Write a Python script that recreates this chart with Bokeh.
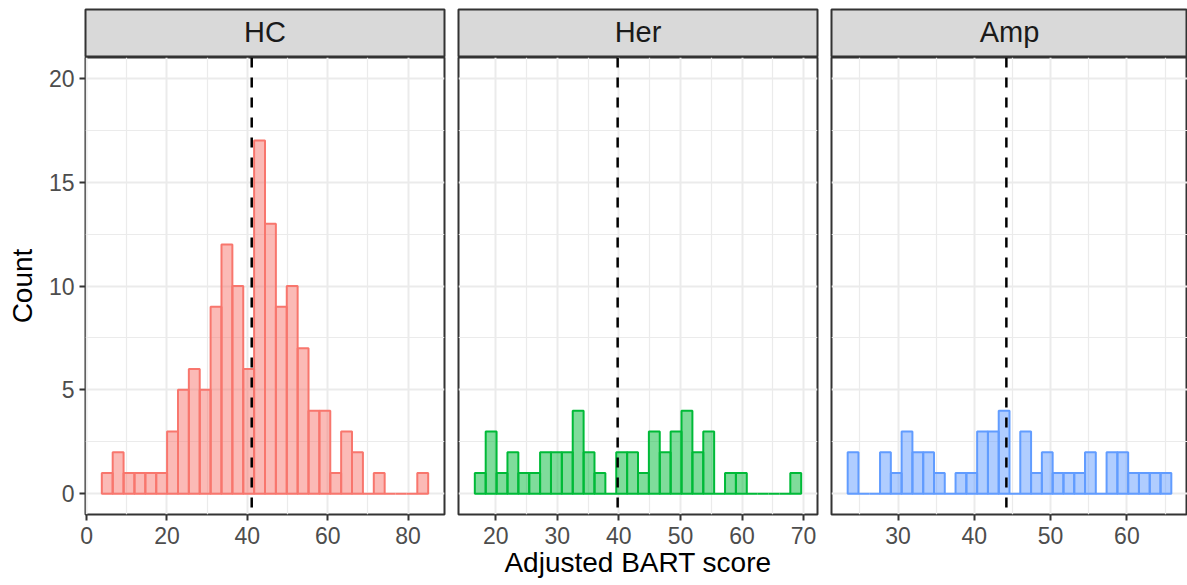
from bokeh.plotting import figure
from bokeh.layouts import row, column
from bokeh.models import Range1d, FixedTicker, Span, FactorRange, ColumnDataSource
from bokeh.embed import file_html
from bokeh.resources import INLINE
from bokeh.core.properties import value

# ---------------- data ----------------
groups = ["HC", "Her", "Amp"]
hc_counts = [1, 2, 1, 1, 1, 1, 3, 5, 6, 5, 9, 12, 10, 6, 17, 13, 9, 10, 7, 4, 4, 1, 3, 2, 0, 1, 0, 0, 0, 1]
her_counts = [1, 3, 1, 2, 1, 1, 2, 2, 2, 4, 2, 1, 0, 2, 2, 1, 3, 2, 3, 4, 2, 3, 0, 1, 1, 0, 0, 0, 0, 1]
amp_counts = [2, 0, 0, 2, 1, 3, 2, 2, 1, 0, 1, 1, 3, 3, 4, 0, 3, 1, 2, 1, 1, 1, 2, 0, 2, 2, 1, 1, 1, 1]
bin_starts = [3.8, 16.6, 23.4]
bin_widths = [2.707, 1.767, 1.414]
group_means = [41.1, 39.8, 44.2]
group_colors = ["#F8766D", "#00BA38", "#619CFF"]
x_major_ticks = [[0, 20, 40, 60, 80], [20, 30, 40, 50, 60, 70], [30, 40, 50, 60]]
x_minor_ticks = [[10, 30, 50, 70], [25, 35, 45, 55, 65], [25, 35, 45, 55, 65]]
y_major_ticks = [0, 5, 10, 15, 20]
y_minor_ticks = [2.5, 7.5, 12.5, 17.5]
y_limits = [0, 20]
x_title = "Adjusted BART score"
y_title = "Count"

all_counts = [hc_counts, her_counts, amp_counts]

# ---------------- style / layout ----------------
FONT = "Liberation Sans"
TOP_M = 8
STRIP_H = 49
FRAME_H = 457
BOTTOM_B = 71
FRAME_W = [359, 359, 356]
LEFT_B = [85, 7, 7]
RIGHT_B = [7, 7, 0]
BORDER = "#333333"
GRID = "#EBEBEB"

ypad = 0.05 * (y_limits[1] - y_limits[0])
y_range = Range1d(y_limits[0] - ypad, y_limits[1] + ypad)

cols = []
for i, g in enumerate(groups):
    counts = all_counts[i]
    n = len(counts)
    w = bin_widths[i]
    lefts = [bin_starts[i] + k * w for k in range(n)]
    rights = [l + w for l in lefts]
    span = n * w
    xr = Range1d(bin_starts[i] - 0.05 * span, bin_starts[i] + span + 0.05 * span)
    W = LEFT_B[i] + FRAME_W[i] + RIGHT_B[i]

    # strip
    s = figure(width=W, height=TOP_M + STRIP_H, x_range=FactorRange(factors=[g]),
               y_range=FactorRange(factors=[g]), output_backend="svg",
               toolbar_location=None, x_axis_location=None, y_axis_location=None,
               min_border=0)
    s.min_border_left = LEFT_B[i]
    s.min_border_right = RIGHT_B[i]
    s.min_border_top = TOP_M + 1
    s.min_border_bottom = 0
    s.grid.visible = False
    s.background_fill_color = "#D9D9D9"
    s.border_fill_color = "white"
    s.outline_line_color = BORDER
    s.outline_line_width = 2
    s.text(x=[g], y=[g], text=[g], text_align="center", text_baseline="middle",
           y_offset=-2,
           text_font=value(FONT), text_font_size="29px", text_color="#1A1A1A")

    # main panel
    p = figure(width=W, height=FRAME_H + BOTTOM_B, x_range=xr, y_range=y_range,
               output_backend="svg", toolbar_location=None,
               y_axis_location="left" if i == 0 else None, min_border=0)
    p.min_border_left = LEFT_B[i]
    p.min_border_right = RIGHT_B[i]
    p.min_border_top = 0
    p.min_border_bottom = BOTTOM_B
    p.background_fill_color = "white"
    p.border_fill_color = "white"
    p.outline_line_color = BORDER
    p.outline_line_width = 2

    p.xgrid.ticker = FixedTicker(ticks=x_major_ticks[i], minor_ticks=x_minor_ticks[i])
    p.ygrid.ticker = FixedTicker(ticks=y_major_ticks, minor_ticks=y_minor_ticks)
    for gr in (p.xgrid, p.ygrid):
        gr.grid_line_color = GRID
        gr.grid_line_width = 2
        gr.minor_grid_line_color = GRID
        gr.minor_grid_line_width = 1.2

    axes = [p.xaxis[0]] + ([p.yaxis[0]] if i == 0 else [])
    p.xaxis.ticker = FixedTicker(ticks=x_major_ticks[i], minor_ticks=x_minor_ticks[i])
    if i == 0:
        p.yaxis.ticker = FixedTicker(ticks=y_major_ticks, minor_ticks=y_minor_ticks)
    for ax in axes:
        ax.axis_line_color = None
        ax.major_tick_line_color = BORDER
        ax.major_tick_line_width = 2
        ax.major_tick_out = 6
        ax.major_tick_in = 0
        ax.minor_tick_out = 0
        ax.minor_tick_in = 0
        ax.major_label_text_font = FONT
        ax.major_label_text_font_size = "23px"
        ax.major_label_text_color = "#4D4D4D"
        ax.axis_label_text_font = FONT
        ax.axis_label_text_font_style = "normal"
        ax.axis_label_text_color = "black"
        ax.axis_label_text_font_size = "28px"
    p.xaxis.major_label_standoff = 6
    if i == 0:
        p.yaxis.major_label_standoff = 5
        p.yaxis.axis_label = y_title
        p.yaxis.axis_label_standoff = 8
    if i == 1:
        p.xaxis.axis_label = x_title
        p.xaxis.axis_label_standoff = 0

    src = ColumnDataSource(dict(left=lefts, right=rights, top=counts, bottom=[0] * n))
    p.quad(left="left", right="right", top="top", bottom="bottom", source=src,
           fill_color=group_colors[i], fill_alpha=0.5,
           line_color=group_colors[i], line_width=2)
    p.add_layout(Span(location=group_means[i], dimension="height", line_color="black",
                      line_width=2.5, line_dash="10 10"))

    cols.append(column(s, p, spacing=0))

layout = row(*cols, spacing=0)
open("out.html", "w").write(file_html(layout, INLINE))
